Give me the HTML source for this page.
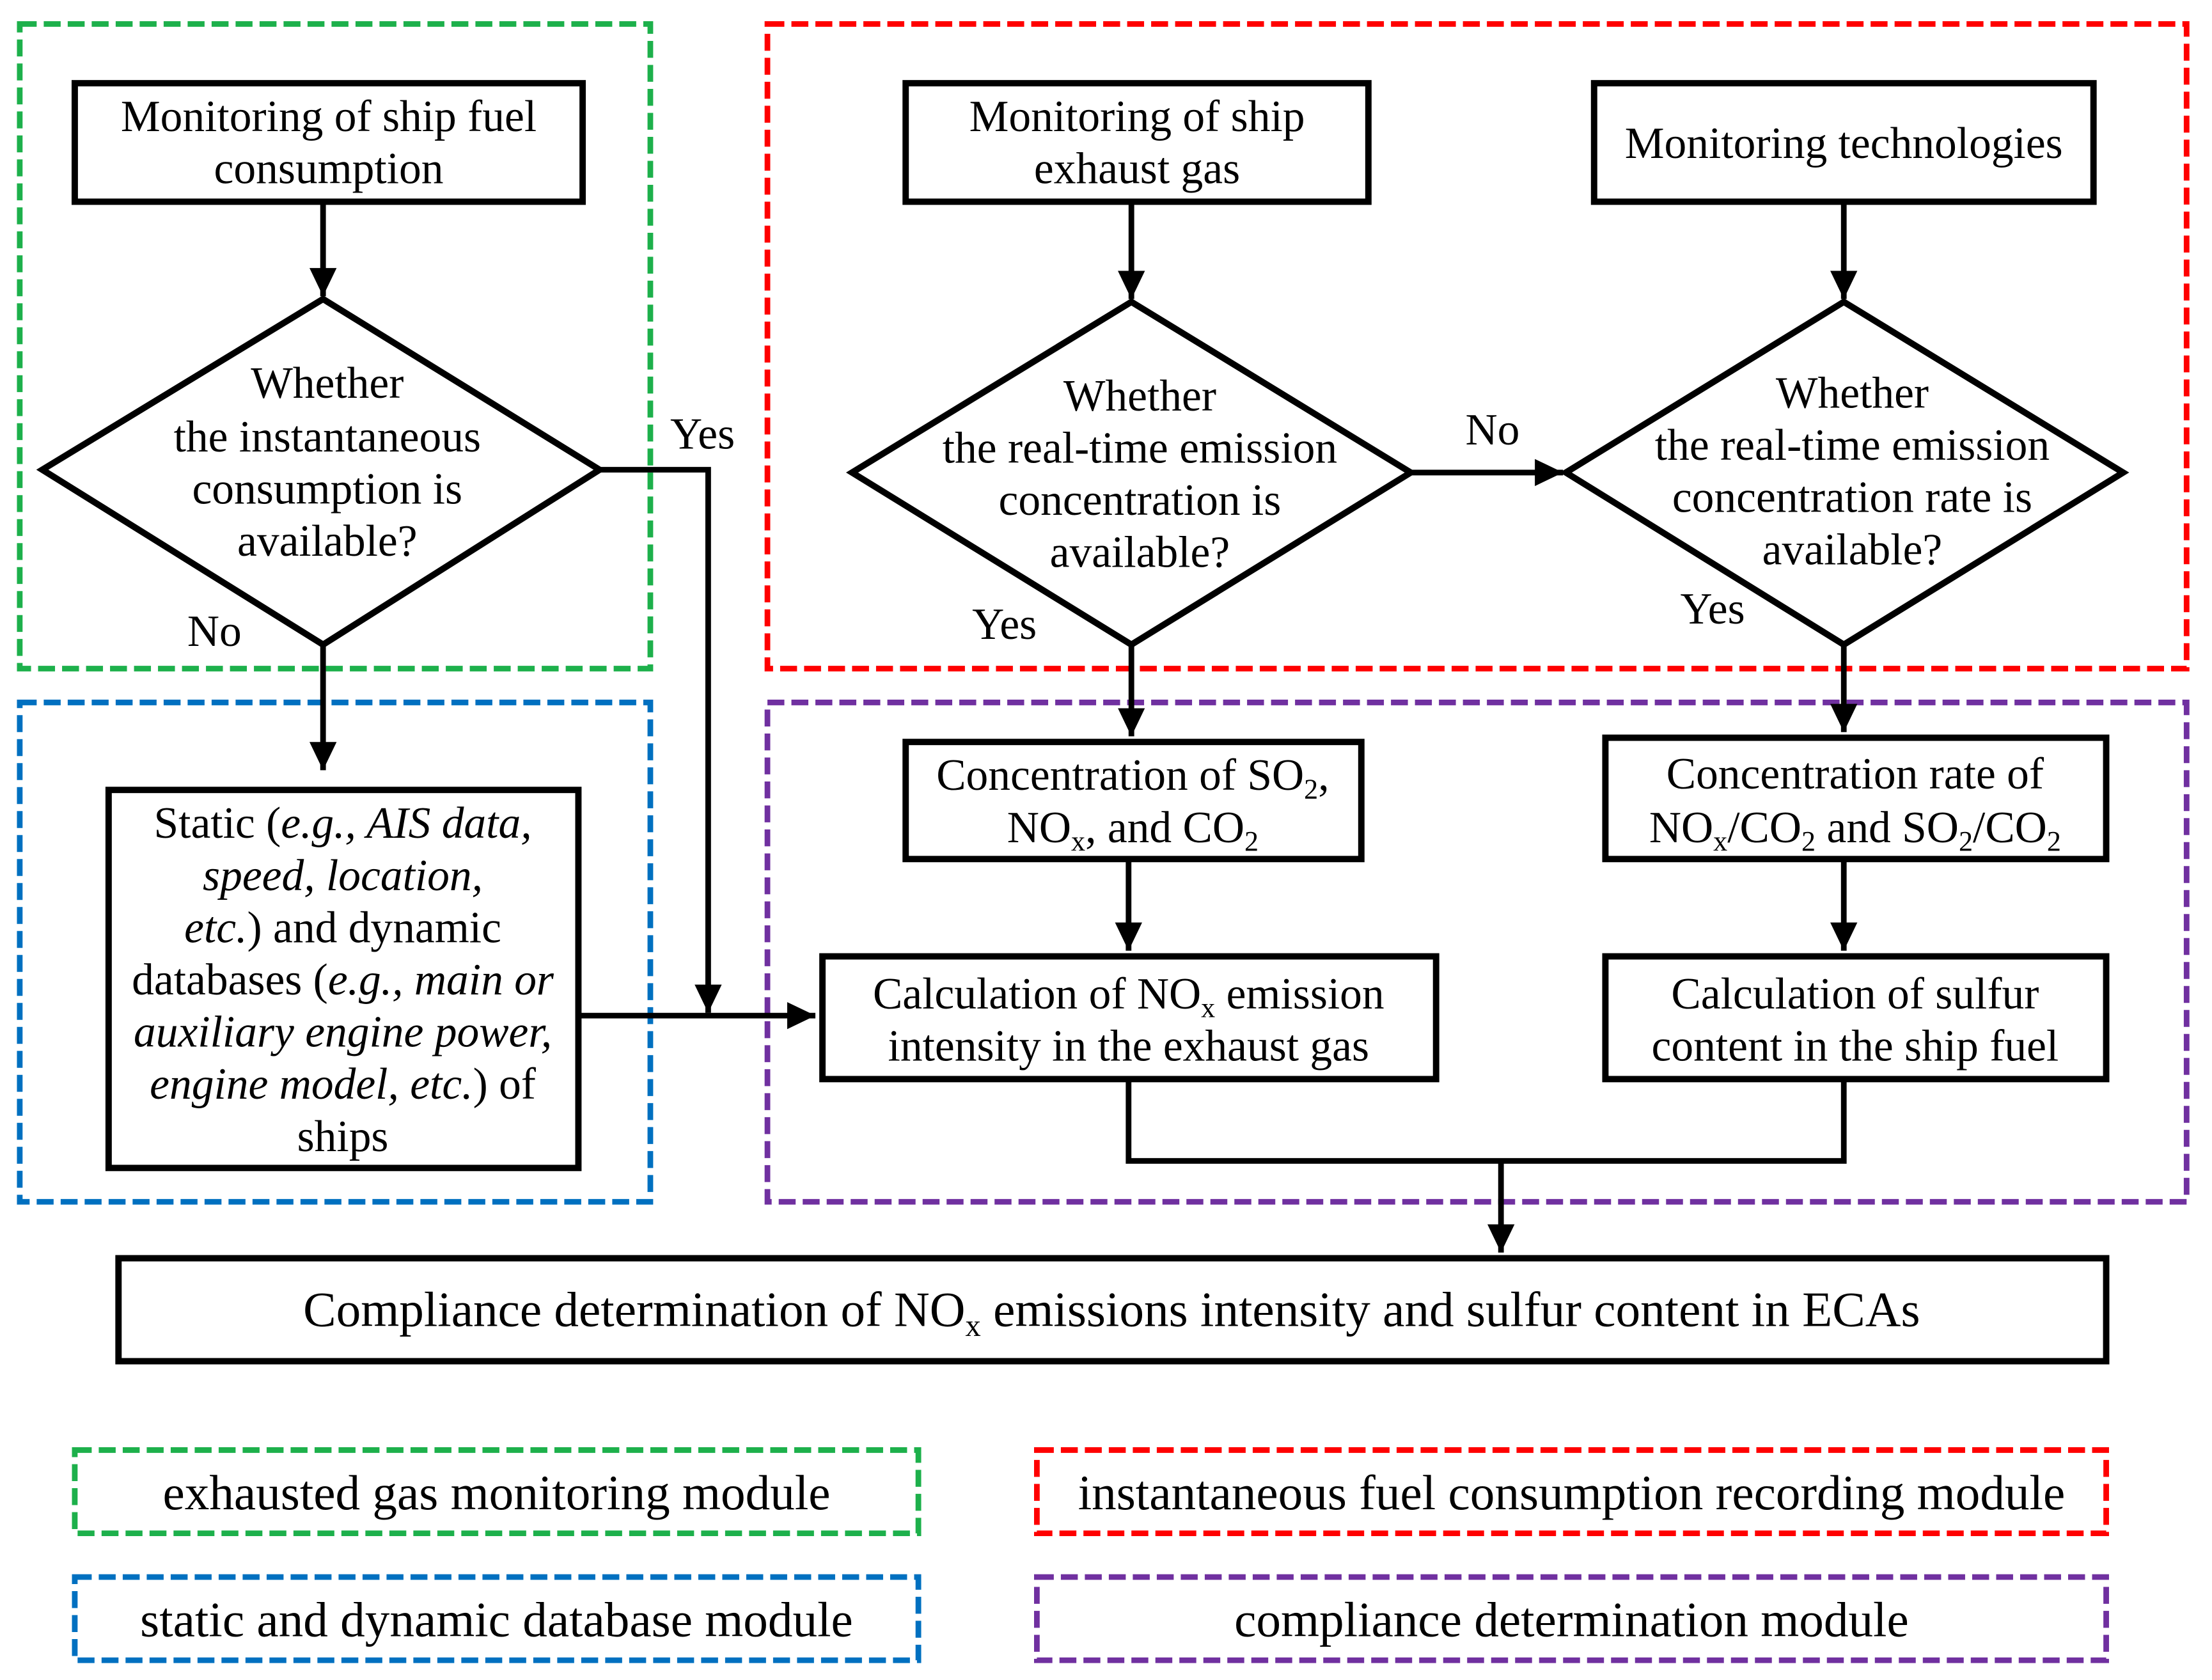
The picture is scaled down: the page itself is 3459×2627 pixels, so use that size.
<!DOCTYPE html>
<html><head><meta charset="utf-8"><style>html,body{margin:0;padding:0;background:#fff}svg{display:block}svg text{font-family:"Liberation Serif",serif}</style></head>
<body>
<svg width="3459" height="2627" viewBox="0 0 1568 1191" preserveAspectRatio="none" xmlns="http://www.w3.org/2000/svg" font-size="31.5" text-anchor="middle">
<defs><marker id="a" markerWidth="6" markerHeight="6" refX="5" refY="3" orient="auto" markerUnits="strokeWidth"><path d="M0,0.6 L5,3 L0,5.4 Z" fill="#000"/></marker></defs>
<g fill="none" stroke-width="4" stroke-dasharray="12,5">
<rect x="14" y="17" width="447" height="457" stroke="#1db04b"/>
<rect x="544" y="17" width="1006" height="457" stroke="#ff0000"/>
<rect x="14" y="498" width="447" height="354" stroke="#0070c0"/>
<rect x="544" y="498" width="1006" height="354" stroke="#7030a0"/>
<rect x="53" y="1028" width="598" height="59" stroke="#1db04b"/>
<rect x="735" y="1028" width="758" height="59" stroke="#ff0000"/>
<rect x="53" y="1118" width="598" height="59" stroke="#0070c0"/>
<rect x="735" y="1118" width="758" height="59" stroke="#7030a0"/>
</g>
<g fill="#fff" stroke="#000" stroke-width="4.5">
<rect x="53" y="59" width="360" height="84"/>
<polygon points="30,333 229,212 425,333 229,457"/>
<rect x="77" y="560" width="333" height="268"/>
<rect x="642" y="59" width="328" height="84"/>
<polygon points="604,335 802,214 1000,335 802,457"/>
<rect x="1130" y="59" width="354" height="84"/>
<polygon points="1110,335 1307,214 1505,335 1307,457"/>
<rect x="642" y="526" width="323" height="83"/>
<rect x="1138" y="523" width="355" height="86"/>
<rect x="583" y="678" width="435" height="87"/>
<rect x="1138" y="678" width="355" height="87"/>
<rect x="84" y="892" width="1409" height="73"/>
</g>
<g fill="none" stroke="#000" stroke-width="4" marker-end="url(#a)">
<path d="M229,143 V210"/>
<path d="M425,333 H502 V718"/>
<path d="M229,457 V546"/>
<path d="M410,720 H578"/>
<path d="M802,143 V212"/>
<path d="M1000,335 H1108"/>
<path d="M1307,143 V212"/>
<path d="M802,457 V522"/>
<path d="M1307,457 V519"/>
<path d="M800,609 V674"/>
<path d="M1307,609 V674"/>
<path d="M1064,823 V888"/>
</g>
<path d="M800,765 V823 H1307 V765" fill="none" stroke="#000" stroke-width="4"/>
<g fill="#000">
<text x="233" y="93">Monitoring of ship fuel</text><text x="233" y="130">consumption</text>
<text x="232" y="282">Whether</text><text x="232" y="320">the instantaneous</text><text x="232" y="357">consumption is</text><text x="232" y="394">available?</text>
<text x="498" y="318">Yes</text><text x="152" y="458">No</text>
<text x="806" y="93">Monitoring of ship</text><text x="806" y="130">exhaust gas</text>
<text x="1307" y="112">Monitoring technologies</text>
<text x="808" y="291">Whether</text><text x="808" y="328">the real-time emission</text><text x="808" y="365">concentration is</text><text x="808" y="402">available?</text>
<text x="1058" y="315">No</text>
<text x="1313" y="289">Whether</text><text x="1313" y="326">the real-time emission</text><text x="1313" y="363">concentration rate is</text><text x="1313" y="400">available?</text>
<text x="712" y="453">Yes</text><text x="1214" y="442">Yes</text>
<text x="243" y="594">Static (<tspan font-style="italic">e.g., AIS data,</tspan></text>
<text x="243" y="631" font-style="italic">speed, location,</text>
<text x="243" y="668"><tspan font-style="italic">etc.</tspan>) and dynamic</text>
<text x="243" y="705">databases (<tspan font-style="italic">e.g., main or</tspan></text>
<text x="243" y="742" font-style="italic">auxiliary engine power,</text>
<text x="243" y="779"><tspan font-style="italic">engine model, etc.</tspan>) of</text>
<text x="243" y="816">ships</text>
<text x="803" y="560">Concentration of SO<tspan font-size="20" dy="6">2</tspan><tspan dy="-6">,</tspan></text>
<text x="803" y="597">NO<tspan font-size="20" dy="6">x</tspan><tspan dy="-6">, and CO</tspan><tspan font-size="20" dy="6">2</tspan></text>
<text x="1315" y="559">Concentration rate of</text>
<text x="1315" y="597">NO<tspan font-size="20" dy="6">x</tspan><tspan dy="-6">/CO</tspan><tspan font-size="20" dy="6">2</tspan><tspan dy="-6"> and SO</tspan><tspan font-size="20" dy="6">2</tspan><tspan dy="-6">/CO</tspan><tspan font-size="20" dy="6">2</tspan></text>
<text x="800" y="715">Calculation of NO<tspan font-size="20" dy="6">x</tspan><tspan dy="-6"> emission</tspan></text>
<text x="800" y="752">intensity in the exhaust gas</text>
<text x="1315" y="715">Calculation of sulfur</text>
<text x="1315" y="752">content in the ship fuel</text>
<text x="788" y="940" font-size="35">Compliance determination of NO<tspan font-size="22" dy="7">x</tspan><tspan dy="-7"> emissions intensity and sulfur content in ECAs</tspan></text>
<text x="352" y="1070" font-size="35">exhausted gas monitoring module</text>
<text x="1114" y="1070" font-size="35">instantaneous fuel consumption recording module</text>
<text x="352" y="1160" font-size="35">static and dynamic database module</text>
<text x="1114" y="1160" font-size="35">compliance determination module</text>
</g>
</svg>
</body></html>
